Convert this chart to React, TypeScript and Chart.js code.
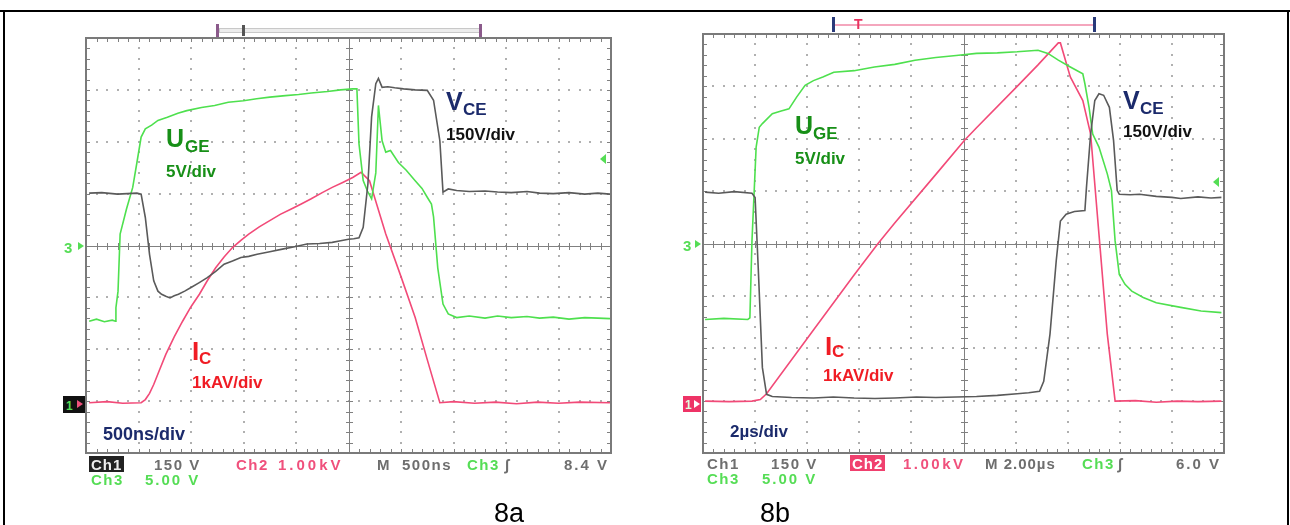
import React, { useEffect, useRef } from "react";
import { Chart, registerables } from "chart.js";
Chart.register(...registerables);

// Oscilloscope traces, time and amplitude in screen divisions (10 x 8 graticule)
// 8a: 500 ns/div
const vce8a: [number, number][] = [
  [0.06, 1.01], [0.3, 1.02], [0.6, 0.99], [0.97, 1.01], [1.05, 0.99], [1.13, 0.54], [1.21, -0.17], [1.29, -0.68],
  [1.37, -0.88], [1.44, -0.94], [1.52, -0.98], [1.6, -1.01], [1.68, -0.97], [1.76, -0.94], [1.88, -0.88], [2.0, -0.81],
  [2.15, -0.72], [2.31, -0.62], [2.47, -0.5], [2.63, -0.36], [2.79, -0.3], [2.95, -0.23], [3.1, -0.21], [3.26, -0.17],
  [3.5, -0.12], [3.74, -0.07], [3.95, -0.03], [4.21, 0.03], [4.45, 0.04], [4.69, 0.06], [4.85, 0.09], [5.0, 0.12],
  [5.1, 0.13], [5.2, 0.15], [5.28, 0.35], [5.37, 1.19], [5.44, 2.48], [5.52, 3.12], [5.57, 3.22], [5.64, 3.05],
  [5.75, 3.06], [5.88, 3.04], [6.05, 3.02], [6.27, 3.0], [6.5, 2.99], [6.62, 2.8], [6.74, 2.02], [6.8, 1.03],
  [6.9, 1.09], [7.06, 1.06], [7.3, 1.04], [7.6, 1.05], [7.84, 1.03], [8.1, 1.02], [8.4, 1.04], [8.64, 1.01],
  [8.9, 1.0], [9.2, 1.02], [9.5, 0.99], [9.75, 1.01], [9.98, 0.99],
];
const uge8a: [number, number][] = [
  [0.06, -1.46], [0.2, -1.42], [0.35, -1.47], [0.5, -1.44], [0.56, -1.46], [0.57, -1.2], [0.61, -0.88], [0.65, 0.22],
  [0.77, 0.7], [0.89, 1.12], [0.97, 1.6], [1.05, 2.09], [1.13, 2.25], [1.25, 2.32], [1.37, 2.41], [1.55, 2.47],
  [1.75, 2.55], [1.92, 2.6], [2.2, 2.66], [2.45, 2.7], [2.71, 2.76], [3.0, 2.79], [3.25, 2.83], [3.5, 2.86],
  [3.8, 2.89], [4.05, 2.91], [4.29, 2.94], [4.6, 2.97], [4.85, 3.0], [5.08, 3.02], [5.16, 3.02], [5.2, 1.96],
  [5.28, 1.25], [5.36, 1.05], [5.44, 0.9], [5.52, 1.4], [5.57, 2.7], [5.64, 2.02], [5.71, 1.8], [5.8, 1.83],
  [5.95, 1.6], [6.1, 1.45], [6.27, 1.25], [6.4, 1.1], [6.5, 0.93], [6.58, 0.8], [6.62, 0.55], [6.7, -0.43],
  [6.8, -1.13], [6.9, -1.32], [7.06, -1.39], [7.3, -1.36], [7.6, -1.4], [7.84, -1.36], [8.1, -1.39], [8.4, -1.37],
  [8.64, -1.4], [8.9, -1.38], [9.2, -1.42], [9.5, -1.39], [9.75, -1.4], [9.98, -1.41],
];
const ic8a: [number, number][] = [
  [0.06, -3.03], [0.4, -3.01], [0.7, -3.04], [1.05, -3.03], [1.13, -2.97], [1.21, -2.85], [1.29, -2.68], [1.4, -2.4],
  [1.52, -2.1], [1.68, -1.76], [1.84, -1.46], [2.0, -1.18], [2.16, -0.94], [2.31, -0.68], [2.47, -0.43], [2.63, -0.22],
  [2.79, -0.04], [2.95, 0.1], [3.1, 0.22], [3.3, 0.36], [3.5, 0.48], [3.7, 0.6], [3.9, 0.7], [4.1, 0.8],
  [4.29, 0.9], [4.5, 1.02], [4.69, 1.12], [4.9, 1.22], [5.08, 1.31], [5.24, 1.41], [5.4, 1.25], [5.55, 0.75],
  [5.71, 0.22], [6.0, -0.6], [6.27, -1.39], [6.5, -2.2], [6.74, -3.03], [7.0, -3.01], [7.4, -3.04], [7.8, -3.02],
  [8.2, -3.05], [8.6, -3.02], [9.0, -3.04], [9.4, -3.02], [9.98, -3.03],
];

// 8b: 2 µs/div
const vce8b: [number, number][] = [
  [0.04, 0.98], [0.3, 0.96], [0.6, 0.99], [0.94, 0.96], [1.0, 0.88], [1.06, -0.46], [1.14, -2.37], [1.22, -2.88],
  [1.33, -2.92], [1.7, -2.94], [2.12, -2.95], [2.5, -2.93], [2.9, -2.95], [3.3, -2.96], [3.68, -2.95], [4.1, -2.93],
  [4.47, -2.94], [4.86, -2.93], [5.25, -2.92], [5.65, -2.9], [6.03, -2.87], [6.25, -2.85], [6.46, -2.82], [6.54, -2.63],
  [6.66, -1.73], [6.78, -0.33], [6.86, 0.43], [6.97, 0.56], [7.13, 0.61], [7.33, 0.63], [7.36, 1.07], [7.44, 2.09],
  [7.52, 2.73], [7.6, 2.86], [7.69, 2.83], [7.8, 2.6], [7.88, 1.97], [7.95, 1.01], [7.99, 0.94], [8.2, 0.93],
  [8.38, 0.94], [8.7, 0.9], [9.0, 0.88], [9.17, 0.86], [9.5, 0.89], [9.75, 0.87], [9.95, 0.88],
];
const uge8b: [number, number][] = [
  [0.04, -1.45], [0.4, -1.43], [0.86, -1.45], [0.9, -1.42], [0.94, 0.05], [1.02, 1.84], [1.08, 2.22], [1.14, 2.29],
  [1.33, 2.48], [1.5, 2.53], [1.65, 2.57], [1.8, 2.8], [1.96, 3.02], [2.12, 3.11], [2.3, 3.18], [2.51, 3.27],
  [2.9, 3.3], [3.29, 3.37], [3.68, 3.42], [4.07, 3.5], [4.47, 3.55], [4.86, 3.59], [5.25, 3.63], [5.65, 3.64],
  [6.03, 3.66], [6.43, 3.69], [6.62, 3.63], [6.82, 3.5], [7.05, 3.37], [7.29, 3.24], [7.33, 3.05], [7.41, 2.6],
  [7.48, 2.09], [7.6, 1.84], [7.76, 1.33], [7.84, 1.01], [7.91, 0.05], [7.99, -0.59], [8.1, -0.78], [8.23, -0.91],
  [8.45, -1.03], [8.7, -1.13], [9.17, -1.22], [9.56, -1.29], [9.95, -1.32],
];
const ic8b: [number, number][] = [
  [0.04, -3.01], [0.5, -3.02], [0.94, -3.01], [1.1, -2.98], [1.22, -2.87], [2.12, -1.65], [2.9, -0.6], [3.36, 0.0],
  [3.68, 0.39], [4.47, 1.32], [5.02, 1.97], [5.25, 2.21], [6.03, 3.0], [6.43, 3.41], [6.82, 3.83], [6.86, 3.83],
  [7.05, 3.18], [7.29, 2.73], [7.44, 2.09], [7.6, 0.18], [7.76, -1.73], [7.91, -3.01], [8.3, -3.0], [8.7, -3.03],
  [9.1, -3.01], [9.5, -3.02], [9.95, -3.01],
];

const X_MIN = 0, X_MAX = 10, Y_MIN = -4, Y_MAX = 4;
const GRAY = "#5a5a5a", GREEN = "#4ee04e", PINK = "#f24a78";

const graticule = {
  id: "graticule",
  beforeDatasetsDraw(chart: any) {
    const { ctx, scales } = chart;
    const X = (v: number) => Math.round(scales.x.getPixelForValue(v));
    const Y = (v: number) => Math.round(scales.y.getPixelForValue(v));
    ctx.save();
    ctx.fillStyle = "#b0b0b0";
    for (let i = X_MIN + 1; i < X_MAX; i++) {
      if (i === 5) continue;
      for (let k = 0; k <= (Y_MAX - Y_MIN) * 5; k++) ctx.fillRect(X(i) - 1, Y(Y_MIN + k * 0.2) - 1, 2, 2);
    }
    for (let j = Y_MIN + 1; j < Y_MAX; j++) {
      if (j === 0) continue;
      for (let k = 0; k <= (X_MAX - X_MIN) * 5; k++) ctx.fillRect(X(X_MIN + k * 0.2) - 1, Y(j) - 1, 2, 2);
    }
    ctx.strokeStyle = "#808080";
    ctx.lineWidth = 1;
    ctx.beginPath();
    ctx.moveTo(X(5) + 0.5, Y(Y_MAX)); ctx.lineTo(X(5) + 0.5, Y(Y_MIN));
    ctx.moveTo(X(X_MIN), Y(0) + 0.5); ctx.lineTo(X(X_MAX), Y(0) + 0.5);
    for (let k = 0; k <= (Y_MAX - Y_MIN) * 5; k++) {
      const py = Y(Y_MIN + k * 0.2) + 0.5;
      ctx.moveTo(X(5) - 3, py); ctx.lineTo(X(5) + 4, py);
      ctx.moveTo(X(X_MIN), py); ctx.lineTo(X(X_MIN) + 4, py);
      ctx.moveTo(X(X_MAX), py); ctx.lineTo(X(X_MAX) - 4, py);
    }
    for (let k = 0; k <= (X_MAX - X_MIN) * 5; k++) {
      const px = X(X_MIN + k * 0.2) + 0.5;
      ctx.moveTo(px, Y(0) - 3); ctx.lineTo(px, Y(0) + 4);
      ctx.moveTo(px, Y(Y_MAX)); ctx.lineTo(px, Y(Y_MAX) + 4);
      ctx.moveTo(px, Y(Y_MIN)); ctx.lineTo(px, Y(Y_MIN) - 4);
    }
    ctx.stroke();
    ctx.strokeStyle = "#7a7a7a";
    ctx.lineWidth = 2;
    ctx.strokeRect(X(X_MIN), Y(Y_MAX), X(X_MAX) - X(X_MIN), Y(Y_MIN) - Y(Y_MAX));
    ctx.restore();
  },
};

type Series = { points: [number, number][]; color: string };

function Scope({ series, left, width, pad }: { series: Series[]; left: number; width: number; pad: any }) {
  const ref = useRef<HTMLCanvasElement>(null);
  useEffect(() => {
    const chart = new Chart(ref.current as HTMLCanvasElement, {
      type: "line",
      data: {
        datasets: series.map((s) => ({
          data: s.points.map(([x, y]) => ({ x, y })),
          borderColor: s.color,
          borderWidth: 1.6,
          pointRadius: 0,
          tension: 0,
          fill: false,
        })),
      },
      options: {
        responsive: false,
        animation: false,
        layout: { padding: pad },
        plugins: { legend: { display: false }, tooltip: { enabled: false } },
        scales: {
          x: { type: "linear", min: X_MIN, max: X_MAX, display: false },
          y: { type: "linear", min: Y_MIN, max: Y_MAX, display: false },
        },
      },
      plugins: [graticule],
    } as any);
    return () => chart.destroy();
  }, []);
  return (
    <canvas ref={ref} width={width} height={525}
      style={{ position: "absolute", left, top: 0, width, height: 525 }} />
  );
}

const SANS = "'Liberation Sans', Arial, sans-serif";

function T({ x, b, s, c, w = 700, ls, bg, children }: any) {
  return (
    <div style={{
      position: "absolute", left: x, top: b - 0.8465 * s, fontSize: s, lineHeight: `${s}px`,
      color: c, fontWeight: w, fontFamily: SANS, whiteSpace: "nowrap", letterSpacing: ls,
      background: bg,
    }}>{children}</div>
  );
}

function Box({ x, y, w, h, c, style }: any) {
  return <div style={{ position: "absolute", left: x, top: y, width: w, height: h, background: c, ...style }} />;
}

function LeftArrow({ x, y, c }: any) {
  return <div style={{ position: "absolute", left: x, top: y - 5, width: 0, height: 0,
    borderTop: "5px solid transparent", borderBottom: "5px solid transparent", borderRight: `6px solid ${c}` }} />;
}
function RightArrow({ x, y, c }: any) {
  return <div style={{ position: "absolute", left: x, top: y - 4, width: 0, height: 0,
    borderTop: "4px solid transparent", borderBottom: "4px solid transparent", borderLeft: `6px solid ${c}` }} />;
}

const SCOPE_GRAY = "#6e6e6e", SCOPE_PINK = "#f0507c", SCOPE_GREEN = "#55dd55";
const DKGREEN = "#178f17", NAVY = "#1b2a6b", RED = "#f01c24";

export default function App() {
  return (
    <div style={{ position: "absolute", left: 0, top: 0, width: 1290, height: 525, background: "#fff", overflow: "hidden" }}>
      <Scope left={0} width={645} pad={{ left: 86, top: 38, right: 34, bottom: 72 }}
        series={[{ points: vce8a, color: GRAY }, { points: uge8a, color: GREEN }, { points: ic8a, color: PINK }]} />
      <Scope left={645} width={645} pad={{ left: 58, top: 34, right: 66, bottom: 72 }}
        series={[{ points: vce8b, color: GRAY }, { points: uge8b, color: GREEN }, { points: ic8b, color: PINK }]} />

      {/* outer frame */}
      <Box x={0} y={10} w={1290} h={2} c="#000" />
      <Box x={3} y={10} w={2} h={515} c="#000" />
      <Box x={1287} y={10} w={2} h={515} c="#000" />

      {/* 8a top record bar */}
      <Box x={219} y={28} w={261} h={3} c="#ececec" style={{ border: "1px solid #c8c8c8" }} />
      <Box x={216} y={24} w={3} h={13} c="#8b5a8b" />
      <Box x={242} y={25} w={3} h={11} c="#555" />
      <Box x={479} y={24} w={3} h={13} c="#8b5a8b" />
      {/* 8b top record bar */}
      <Box x={835} y={24} w={259} h={2} c="#f4a6bd" />
      <Box x={832} y={17} w={3} h={15} c="#2a3a7a" />
      <Box x={1093} y={17} w={3} h={15} c="#2a3a7a" />
      <T x={854} b={29} s={14} c="#e83360">T</T>

      {/* 8a side markers */}
      <T x={64} b={253} s={15} c={SCOPE_GREEN}>3</T>
      <RightArrow x={78} y={246} c={SCOPE_GREEN} />
      <Box x={63} y={396} w={22} h={17} c="#111" />
      <T x={66} b={410} s={12} c={SCOPE_GREEN}>1</T>
      <RightArrow x={77} y={404} c={SCOPE_PINK} />
      <LeftArrow x={600} y={159} c={SCOPE_GREEN} />
      {/* 8b side markers */}
      <T x={683} b={251} s={15} c={SCOPE_GREEN}>3</T>
      <RightArrow x={695} y={244} c={SCOPE_GREEN} />
      <Box x={683} y={396} w={18} h={16} c="#ee3366" />
      <T x={685} b={409} s={12} c="#dfffdf">1</T>
      <RightArrow x={694} y={404} c="#fff" />
      <LeftArrow x={1213} y={182} c={SCOPE_GREEN} />

      {/* 8a annotations */}
      <T x={166} b={147} s={25} c={DKGREEN}>U</T>
      <T x={185} b={152} s={17} c={DKGREEN}>GE</T>
      <T x={166} b={177} s={17} c={DKGREEN}>5V/div</T>
      <T x={446} b={110} s={25} c={NAVY}>V</T>
      <T x={463} b={115} s={17} c={NAVY}>CE</T>
      <T x={446} b={140} s={17} c="#111">150V/div</T>
      <T x={192} b={360} s={26} c={RED}>I</T>
      <T x={199} b={364} s={17} c={RED}>C</T>
      <T x={192} b={388} s={17} c={RED}>1kAV/div</T>
      <T x={103} b={440} s={18} c={NAVY}>500ns/div</T>

      {/* 8b annotations */}
      <T x={795} b={134} s={25} c={DKGREEN}>U</T>
      <T x={813} b={139} s={17} c={DKGREEN}>GE</T>
      <T x={795} b={164} s={17} c={DKGREEN}>5V/div</T>
      <T x={1123} b={109} s={25} c={NAVY}>V</T>
      <T x={1140} b={114} s={17} c={NAVY}>CE</T>
      <T x={1123} b={137} s={17} c="#111">150V/div</T>
      <T x={825} b={355} s={26} c={RED}>I</T>
      <T x={832} b={357} s={17} c={RED}>C</T>
      <T x={823} b={381} s={17} c={RED}>1kAV/div</T>
      <T x={730} b={437} s={17} c={NAVY}>2µs/div</T>

      {/* 8a scope status line */}
      <Box x={89} y={456} w={35} h={16} c="#222" />
      <T x={91} b={470} s={15} c="#eee" ls={1}>Ch1</T>
      <T x={154} b={470} s={15} c={SCOPE_GRAY} ls={1.5}>150 V</T>
      <T x={236} b={470} s={15} c={SCOPE_PINK} ls={1.5}>Ch2</T>
      <T x={278} b={470} s={15} c={SCOPE_PINK} ls={3}>1.00kV</T>
      <T x={377} b={470} s={15} c={SCOPE_GRAY}>M</T>
      <T x={402} b={470} s={15} c={SCOPE_GRAY} ls={1.5}>500ns</T>
      <T x={467} b={470} s={15} c={SCOPE_GREEN} ls={1.5}>Ch3</T>
      <T x={505} b={470} s={15} c={SCOPE_GRAY}>∫</T>
      <T x={564} b={470} s={15} c={SCOPE_GRAY} ls={2}>8.4 V</T>
      <T x={91} b={485} s={15} c={SCOPE_GREEN} ls={1.5}>Ch3</T>
      <T x={145} b={485} s={15} c={SCOPE_GREEN} ls={2}>5.00 V</T>
      <T x={494} b={523} s={27} c="#000" w={400}>8a</T>

      {/* 8b scope status line */}
      <T x={707} b={469} s={15} c={SCOPE_GRAY} ls={1.5}>Ch1</T>
      <T x={771} b={469} s={15} c={SCOPE_GRAY} ls={1.5}>150 V</T>
      <Box x={850} y={455} w={35} h={16} c="#f0406e" />
      <T x={852} b={469} s={15} c="#fff" ls={1}>Ch2</T>
      <T x={903} b={469} s={15} c={SCOPE_PINK} ls={2.5}>1.00kV</T>
      <T x={985} b={469} s={15} c={SCOPE_GRAY} ls={1}>M 2.00µs</T>
      <T x={1082} b={469} s={15} c={SCOPE_GREEN} ls={1.5}>Ch3</T>
      <T x={1118} b={469} s={15} c={SCOPE_GRAY}>∫</T>
      <T x={1176} b={469} s={15} c={SCOPE_GRAY} ls={2}>6.0 V</T>
      <T x={707} b={484} s={15} c={SCOPE_GREEN} ls={1.5}>Ch3</T>
      <T x={762} b={484} s={15} c={SCOPE_GREEN} ls={2}>5.00 V</T>
      <T x={760} b={523} s={27} c="#000" w={400}>8b</T>
    </div>
  );
}
